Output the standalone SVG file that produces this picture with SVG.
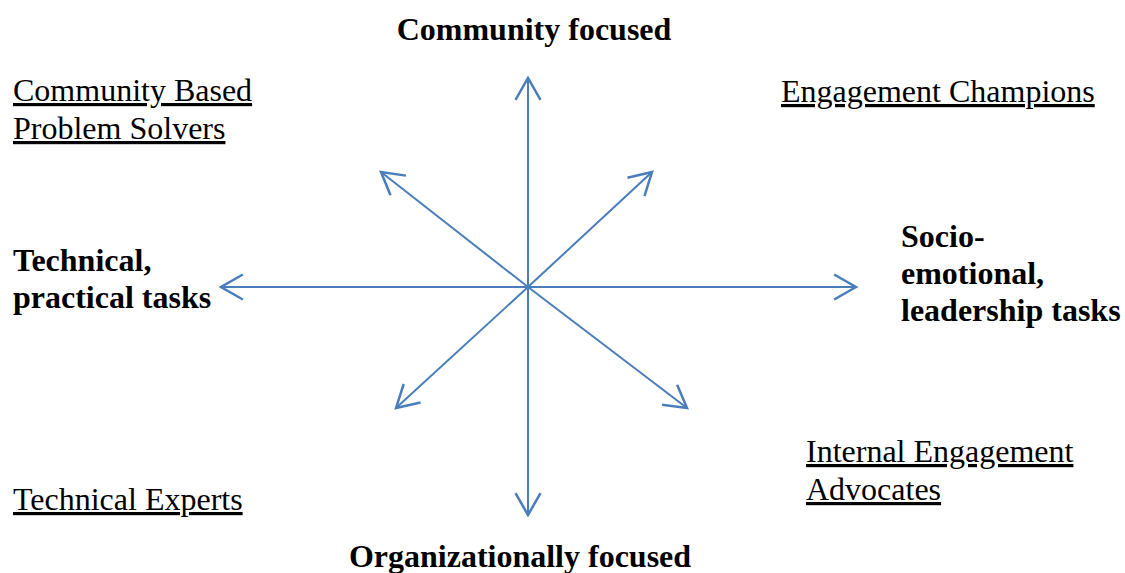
<svg xmlns="http://www.w3.org/2000/svg" width="1125" height="573" viewBox="0 0 1125 573">
<style>
.t{font-family:"Liberation Serif","Times New Roman",serif;font-size:32px;fill:#000}
.b{font-weight:bold}
.u{text-decoration:underline}
.ax{stroke:#4a7ebb;stroke-width:2;fill:none}
</style>
<defs>
<marker id="ah" markerUnits="userSpaceOnUse" markerWidth="30" markerHeight="30" viewBox="-20 -12 24 24" refX="0" refY="0" orient="auto" overflow="visible">
<path d="M-17.5,-10 L0,0 L-17.5,10" fill="none" stroke="#4a7ebb" stroke-width="2" stroke-linejoin="miter"/>
</marker>
</defs>
<rect width="1125" height="573" fill="#fff"/>
<g id="connectors">
<line class="ax" x1="528" y1="287" x2="528" y2="78" marker-end="url(#ah)"/>
<line class="ax" x1="528" y1="287" x2="528" y2="515" marker-end="url(#ah)"/>
<line class="ax" x1="528" y1="287" x2="221" y2="287" marker-end="url(#ah)"/>
<line class="ax" x1="528" y1="287" x2="856" y2="287" marker-end="url(#ah)"/>
<line class="ax" x1="528" y1="287" x2="381" y2="172" marker-end="url(#ah)"/>
<line class="ax" x1="528" y1="287" x2="652" y2="172" marker-end="url(#ah)"/>
<line class="ax" x1="528" y1="287" x2="396" y2="408" marker-end="url(#ah)"/>
<line class="ax" x1="528" y1="287" x2="687" y2="408" marker-end="url(#ah)"/>
</g>
<g id="community-focused"><text class="t b" x="534" y="40" text-anchor="middle">Community focused</text></g>
<g id="organizationally-focused"><text class="t b" x="520" y="567" text-anchor="middle">Organizationally focused</text></g>
<g id="technical-practical"><text class="t b" x="13" y="271">Technical,</text><text class="t b" x="13" y="308">practical tasks</text></g>
<g id="socio-emotional"><text class="t b" x="901" y="247">Socio-</text><text class="t b" x="901" y="284">emotional,</text><text class="t b" x="901" y="321">leadership tasks</text></g>
<g id="community-based"><text class="t u" x="13" y="101">Community Based</text><text class="t u" x="13" y="139">Problem Solvers</text></g>
<g id="engagement-champions"><text class="t u" x="781" y="102">Engagement Champions</text></g>
<g id="internal-advocates"><text class="t u" x="806" y="462">Internal Engagement</text><text class="t u" x="806" y="500">Advocates</text></g>
<g id="technical-experts"><text class="t u" x="13" y="510">Technical Experts</text></g>
</svg>
